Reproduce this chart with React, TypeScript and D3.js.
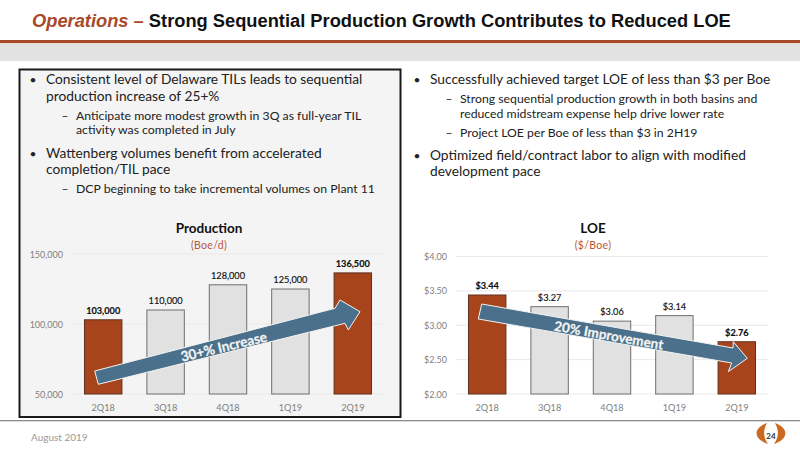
import React from "react";
import * as d3 from "d3";

const quarters = ["2Q18", "3Q18", "4Q18", "1Q19", "2Q19"];
const production = [103000, 110000, 128000, 125000, 136500];
const productionTicks = [50000, 100000, 150000];
const loe = [3.44, 3.27, 3.06, 3.14, 2.76];
const loeTicks = [2, 2.5, 3, 3.5, 4];
const highlighted = ["2Q18", "2Q19"];

const leftBullets: [string, number, number, number][] = [
  ["Consistent level of Delaware TILs leads to sequential", 0, 46, 84],
  ["production increase of 25+%", 0, 46, 100.5],
  ["Anticipate more modest growth in 3Q as full-year TIL", 1, 76, 119.5],
  ["activity was completed in July", 1, 76, 134],
  ["Wattenberg volumes benefit from accelerated", 0, 46, 158],
  ["completion/TIL pace", 0, 46, 174],
  ["DCP beginning to take incremental volumes on Plant 11", 1, 76, 193],
];
const rightBullets: [string, number, number, number][] = [
  ["Successfully achieved target LOE of less than $3 per Boe", 0, 430, 84],
  ["Strong sequential production growth in both basins and", 1, 460, 103],
  ["reduced midstream expense help drive lower rate", 1, 460, 118],
  ["Project LOE per Boe of less than $3 in 2H19", 1, 460, 136.5],
  ["Optimized field/contract labor to align with modified", 0, 430, 160],
  ["development pace", 0, 430, 176],
];
const bulletMarks: [string, number, number][] = [
  ["•", 33, 84], ["–", 65, 119.5], ["•", 33, 158], ["–", 65, 193],
  ["•", 417, 84], ["–", 449, 103], ["–", 449, 136.5], ["•", 417, 160],
];

const BODY = "Lato, 'Open Sans', sans-serif";
const RUST = "#a8441c";
const BLUE = "#4a708b";

function Chart(props: {
  values: number[]; ticks: number[]; domain: [number, number];
  x0: number; x1: number; yTop: number; yBottom: number;
  tickFmt: (v: number) => string; labelFmt: (v: number) => string;
  title: string; unit: string; titleX: number; boldLabels: string[];
}) {
  const { values, ticks, domain, x0, x1, yTop, yBottom, tickFmt, labelFmt, title, unit, titleX, boldLabels } = props;
  const x = d3.scaleBand<string>().domain(quarters).range([x0, x1]).paddingInner(0.4).paddingOuter(0.2);
  const y = d3.scaleLinear().domain(domain).range([yBottom, yTop]);
  return (
    <g fontFamily={BODY}>
      <text x={titleX} y={233} textAnchor="middle" fontSize={13.5} fontWeight={700} fill="#111">{title}</text>
      <text x={titleX} y={249} textAnchor="middle" fontSize={10.5} letterSpacing={0.3} fill="#b5573a">{unit}</text>
      {ticks.map(t => (
        <g key={t}>
          <line x1={x0} x2={x1} y1={y(t)} y2={y(t)} stroke="#e9e9e9" strokeWidth={1} />
          <text x={x0 - 9} y={y(t) + 3.5} textAnchor="end" fontSize={9} fill="#7f7f7f">{tickFmt(t)}</text>
        </g>
      ))}
      {quarters.map((q, i) => {
        const hot = highlighted.includes(q);
        const bx = x(q) as number;
        return (
          <g key={q}>
            <rect x={bx} y={y(values[i])} width={x.bandwidth()} height={yBottom - y(values[i])}
              fill={hot ? RUST : "#e1e1e1"} stroke={hot ? "#5e3020" : "#6f6f6f"} strokeWidth={1} />
            <text x={bx + x.bandwidth() / 2} y={y(values[i]) - 6} textAnchor="middle" fontSize={9.2}
              fontWeight={boldLabels.includes(q) ? 700 : 400} stroke="#111" strokeWidth={0.15} fill="#111">{labelFmt(values[i])}</text>
            <text x={bx + x.bandwidth() / 2} y={yBottom + 17} textAnchor="middle" fontSize={9.2} fill="#7f7f7f">{q}</text>
          </g>
        );
      })}
    </g>
  );
}

export default function App() {
  const lines = [...leftBullets, ...rightBullets];
  return (
    <svg width={800} height={450} viewBox="0 0 800 450"
      style={{ position: "absolute", left: 0, top: 0, display: "block", background: "#fff" }}>
      <text x={32} y={27} fontFamily="'Liberation Sans', Arial, sans-serif" fontSize={18.3} fontWeight={700}>
        <tspan fill="#a8492a" fontStyle="italic">Operations – </tspan>
        <tspan fill="#111">Strong Sequential Production Growth Contributes to Reduced LOE</tspan>
      </text>
      <rect x={0} y={40} width={800} height={3.2} fill="#a8492a" />
      <rect x={0} y={44} width={800} height={17} fill="#e2e2e2" />
      <rect x={19.5} y={69.5} width={381} height={347.5} fill="#f4f4f4" stroke="#1a1a1a" strokeWidth={2} />
      <rect x={0} y={420} width={800} height={1.3} fill="#8a8a8a" />

      {lines.map(([t, level, lx, ly], i) => (
        <text key={i} x={lx} y={ly} fontFamily={BODY} fontSize={level ? 12.25 : 13.75} fill="#222">{t}</text>
      ))}
      {bulletMarks.map(([m, mx, my], i) => (
        <text key={i} x={mx} y={my} fontFamily={BODY} fontSize={12} fill="#222" textAnchor="middle">{m}</text>
      ))}

      <Chart values={production} ticks={productionTicks} domain={[50000, 150000]}
        x0={72} x1={384} yTop={254} yBottom={394}
        tickFmt={d3.format(",")} labelFmt={d3.format(",")}
        title="Production" unit="(Boe/d)" titleX={209} boldLabels={["2Q18", "2Q19"]} />
      <Chart values={loe} ticks={loeTicks} domain={[2, 4]}
        x0={456} x1={768} yTop={256.5} yBottom={394}
        tickFmt={d3.format("$.2f")} labelFmt={d3.format("$.2f")}
        title="LOE" unit="($/Boe)" titleX={593} boldLabels={["2Q18", "2Q19"]} />

      <polygon points="94.7,371 335,308.3 340,300 360,311.7 348.3,330 345,323.3 98.3,384.3"
        fill={BLUE} stroke="#f2f2f2" strokeWidth={1} />
      <text transform="translate(225,351.5) rotate(-13.5)" textAnchor="middle" fontFamily={BODY}
        fontSize={14} fontWeight={700} fill="#f4f4f4" stroke="#f4f4f4" strokeWidth={0.25}
        textLength={88} lengthAdjust="spacingAndGlyphs">30+% Increase</text>

      <polygon points="481.7,304 733,348 733.3,341.7 747.3,358.3 728.3,371.7 731.7,363 478.3,319"
        fill={BLUE} stroke="#f2f2f2" strokeWidth={1} />
      <text transform="translate(608,340) rotate(10)" textAnchor="middle" fontFamily={BODY}
        fontSize={13.5} fontWeight={700} fill="#f4f4f4" stroke="#f4f4f4" strokeWidth={0.25}>20% Improvement</text>

      <text x={31} y={441} fontFamily={BODY} fontSize={10} fill="#9a9a9a">August 2019</text>
      <path d="M767,423 C753,428 753,439 768,444 C763,437 763,430 767,423 Z" fill="#cc691f" />
      <path d="M775,423 C789,428 789,439 774,444 C779,437 779,430 775,423 Z" fill="#cc691f" />
      <text x={771} y={439} textAnchor="middle" fontFamily={BODY} fontSize={8} fontWeight={700} fill="#333">24</text>
    </svg>
  );
}
